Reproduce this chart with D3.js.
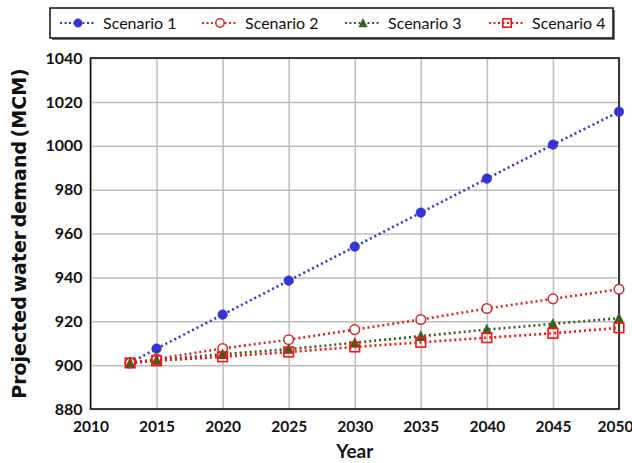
<!DOCTYPE html>
<html>
<head>
<meta charset="utf-8">
<script src="https://cdn.jsdelivr.net/npm/d3@7"></script>
<style>
  html, body { margin: 0; padding: 0; background: #fff; }
  svg { display: block; }
</style>
</head>
<body>
<svg id="chart" width="632" height="463"></svg>
<script>
// Projected water demand per scenario, MCM
const years = [2013, 2015, 2020, 2025, 2030, 2035, 2040, 2045, 2050];
const scenario1 = [901, 907.5, 923, 938.5, 954, 969.5, 985, 1000.5, 1015.5];
const scenario2 = [901, 902.8, 907.6, 911.6, 916.2, 920.8, 925.8, 930.2, 934.6];
const scenario3 = [901, 902.3, 905, 907.3, 910.2, 913.2, 916.2, 918.8, 921.4];
const scenario4 = [901, 902, 903.8, 906, 908.3, 910.4, 912.5, 914.5, 917];
const seriesNames = ["Scenario 1", "Scenario 2", "Scenario 3", "Scenario 4"];
const xTicks = [2010, 2015, 2020, 2025, 2030, 2035, 2040, 2045, 2050];
const yTicks = [880, 900, 920, 940, 960, 980, 1000, 1020, 1040];

const series = [
  { name: seriesNames[0], values: scenario1, color: "#3434d6", marker: "circle", fill: true },
  { name: seriesNames[1], values: scenario2, color: "#d8262c", marker: "circle", fill: false },
  { name: seriesNames[2], values: scenario3, color: "#366226", marker: "triangle", fill: true },
  { name: seriesNames[3], values: scenario4, color: "#ff1010", marker: "square", fill: false }
];

const svg = d3.select("#chart");
const plot = { left: 90.5, right: 619, top: 58, bottom: 409 };

const x = d3.scaleLinear().domain([2010, 2050]).range([plot.left, plot.right]);
const y = d3.scaleLinear().domain([880, 1040]).range([plot.bottom, plot.top]);

const labelFont = "Lato, 'Open Sans', sans-serif";

// grid lines
svg.append("g")
  .attr("transform", `translate(0,${plot.bottom})`)
  .call(d3.axisBottom(x).tickValues(xTicks).tickSize(-(plot.bottom - plot.top)).tickFormat(""))
  .call(g => g.select(".domain").remove())
  .call(g => g.selectAll("line").attr("stroke", "#bdbdbd").attr("stroke-width", 1.5));

svg.append("g")
  .attr("transform", `translate(${plot.left},0)`)
  .call(d3.axisLeft(y).tickValues(yTicks).tickSize(-(plot.right - plot.left)).tickFormat(""))
  .call(g => g.select(".domain").remove())
  .call(g => g.selectAll("line").attr("stroke", "#bdbdbd").attr("stroke-width", 1.5));

// tick labels
svg.append("g")
  .attr("transform", `translate(0,${plot.bottom})`)
  .call(d3.axisBottom(x).tickValues(xTicks).tickSize(0).tickPadding(12).tickFormat(d3.format("d")))
  .call(g => g.select(".domain").remove())
  .call(g => g.selectAll("text")
    .attr("font-family", labelFont).attr("font-size", 15.5).attr("font-weight", 700).attr("fill", "#111")
    .attr("dx", d => d === 2050 ? -4 : 0));

svg.append("g")
  .attr("transform", `translate(${plot.left},0)`)
  .call(d3.axisLeft(y).tickValues(yTicks).tickSize(0).tickPadding(8).tickFormat(d3.format("d")))
  .call(g => g.select(".domain").remove())
  .call(g => g.selectAll("text")
    .attr("font-family", labelFont).attr("font-size", 16).attr("font-weight", 700).attr("fill", "#111"));

// plot frame
svg.append("rect")
  .attr("x", plot.left).attr("y", plot.top)
  .attr("width", plot.right - plot.left).attr("height", plot.bottom - plot.top)
  .attr("fill", "none").attr("stroke", "#111").attr("stroke-width", 1.6);

// axis titles
svg.append("text")
  .attr("x", (plot.left + plot.right) / 2).attr("y", 458)
  .attr("text-anchor", "middle")
  .attr("font-family", labelFont).attr("font-size", 19).attr("font-weight", 700).attr("fill", "#111")
  .text("Year");

svg.append("text")
  .attr("transform", `translate(26,${(plot.top + plot.bottom) / 2}) rotate(-90)`)
  .attr("text-anchor", "middle")
  .attr("font-family", "'DejaVu Sans', sans-serif").attr("font-size", 19).attr("font-weight", 700)
  .attr("fill", "#111").attr("word-spacing", -3)
  .text("Projected water demand (MCM)");

// markers
function drawMarker(sel, s, size) {
  if (s.marker === "circle") {
    sel.append("circle").attr("r", size)
      .attr("fill", s.fill ? s.color : "#fff")
      .attr("stroke", s.color).attr("stroke-width", s.fill ? 0.5 : 1.5);
  } else if (s.marker === "triangle") {
    const h = size * 2.2;
    sel.append("path")
      .attr("d", `M0,${-h * 0.55}L${h * 0.5},${h * 0.45}L${-h * 0.5},${h * 0.45}Z`)
      .attr("fill", s.color);
  } else {
    const w = size * 2;
    sel.append("rect").attr("x", -w / 2).attr("y", -w / 2).attr("width", w).attr("height", w)
      .attr("fill", "none").attr("stroke", s.color).attr("stroke-width", 1.6);
  }
}

const line = d3.line().x(d => x(d[0])).y(d => y(d[1]));

series.forEach(s => {
  const pts = years.map((yr, i) => [yr, s.values[i]]);
  const g = svg.append("g");
  g.append("path")
    .datum(pts)
    .attr("d", line)
    .attr("fill", "none")
    .attr("stroke", s.color)
    .attr("stroke-width", 2.6)
    .attr("stroke-dasharray", "2,3");
  g.selectAll("g.pt").data(pts).join("g")
    .attr("class", "pt")
    .attr("transform", d => `translate(${x(d[0])},${y(d[1])})`)
    .each(function () { drawMarker(d3.select(this), s, 4.8); });
});

// legend
const legend = svg.append("g");
legend.append("rect").attr("x", 52).attr("y", 10).attr("width", 563).attr("height", 30)
  .attr("fill", "#777");
legend.append("rect").attr("x", 50).attr("y", 8).attr("width", 563).attr("height", 30)
  .attr("fill", "#fff").attr("stroke", "#111").attr("stroke-width", 1.5);

const legendX = d3.scaleOrdinal().domain(seriesNames).range([78, 220, 363, 507]);
series.forEach(s => {
  const cx = legendX(s.name);
  const g = legend.append("g").attr("transform", `translate(${cx},23)`);
  g.append("line").attr("x1", -18).attr("x2", 18)
    .attr("stroke", s.color).attr("stroke-width", 2.2).attr("stroke-dasharray", "2,2.5");
  drawMarker(g, s, 4.2);
  legend.append("text")
    .attr("x", cx + 25).attr("y", 29)
    .attr("font-family", labelFont).attr("font-size", 16).attr("font-weight", 400).attr("fill", "#111")
    .text(s.name);
});
</script>
</body>
</html>
